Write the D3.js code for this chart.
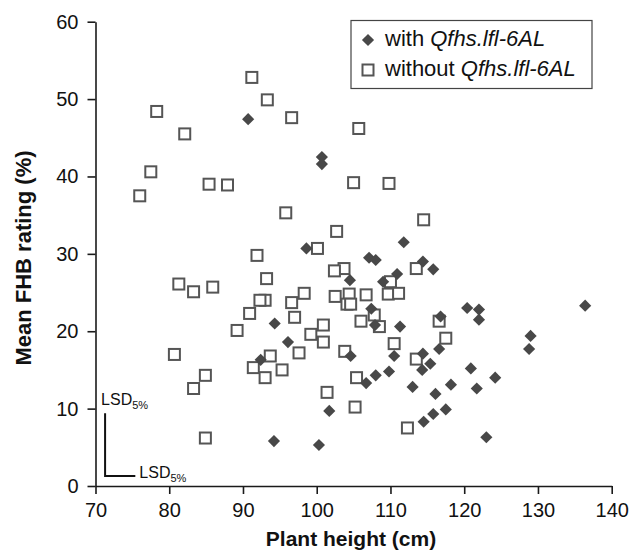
<!DOCTYPE html>
<html><head><meta charset="utf-8">
<script src="https://cdn.jsdelivr.net/npm/d3@7"></script>
<style>body{margin:0;background:#fff}svg{display:block}text{font-family:"Liberation Sans",Arial,Helvetica,sans-serif}</style>
</head><body><svg id="c" width="632" height="554"></svg>
<script>
const xTicks=[70,80,90,100,110,120,130,140];
const yTicks=[0,10,20,30,40,50,60];
const withQ=[[90.7,47.4],[100.7,42.5],[100.7,41.6],[111.8,31.5],[98.6,30.7],[107.1,29.5],[108.0,29.2],[114.4,29.0],[115.8,28.0],[104.5,26.6],[110.9,27.4],[109.0,26.4],[107.4,22.9],[107.9,20.8],[94.3,21.0],[111.3,20.6],[96.1,18.6],[116.8,21.9],[116.6,17.7],[114.4,17.1],[104.6,16.8],[92.4,16.3],[110.5,16.8],[115.4,15.8],[114.3,15.0],[106.7,13.3],[108.0,14.3],[109.8,14.8],[113.0,12.8],[116.1,11.9],[118.2,13.1],[101.7,9.7],[94.2,5.8],[100.3,5.3],[114.5,8.3],[115.8,9.3],[117.5,9.9],[120.4,23.0],[122.0,22.8],[122.0,21.5],[136.4,23.3],[129.0,19.4],[128.8,17.7],[120.9,15.2],[124.2,14.0],[121.7,12.6],[123.0,6.3]];
const withoutQ=[[78.3,48.4],[82.1,45.5],[91.2,52.8],[93.3,49.9],[96.6,47.6],[105.7,46.2],[77.5,40.6],[85.4,39.0],[87.9,38.9],[76.0,37.5],[105.0,39.2],[109.8,39.1],[95.8,35.3],[114.5,34.4],[102.7,32.9],[100.1,30.7],[91.9,29.8],[113.5,28.1],[103.7,28.1],[102.4,27.8],[110.0,26.4],[93.2,26.8],[81.3,26.1],[83.3,25.1],[85.9,25.7],[98.3,24.9],[102.5,24.5],[104.4,24.8],[106.7,24.7],[109.7,24.8],[111.1,24.9],[93.0,24.0],[92.3,24.0],[96.6,23.7],[104.1,23.5],[104.6,23.5],[90.9,22.3],[97.0,21.8],[107.8,22.1],[106.0,21.3],[108.5,20.6],[100.9,20.8],[89.2,20.1],[99.2,19.6],[100.9,18.6],[110.5,18.4],[116.6,21.3],[117.5,19.1],[97.6,17.2],[103.8,17.4],[93.7,16.8],[113.5,16.4],[80.7,17.0],[84.9,14.3],[83.3,12.6],[91.4,15.3],[93.0,14.0],[95.3,15.0],[105.4,14.0],[101.4,12.1],[105.2,10.2],[112.3,7.5],[84.9,6.2]];
const lsdAnchor=[71.3,1.3];
const lsdY=8.1, lsdX=4.1;
const legendLabels=[["with ","Qfhs.lfl-6AL"],["without ","Qfhs.lfl-6AL"]];

const svg=d3.select("#c");
const x=d3.scaleLinear().domain([70,140]).range([95.5,611.7]);
const y=d3.scaleLinear().domain([0,60]).range([486,21.7]);
const axisCol="#1a1a1a";

const gx=svg.append("g").attr("transform","translate(0,"+y(0)+")")
  .call(d3.axisBottom(x).tickValues(xTicks).tickSize(8).tickSizeOuter(0));
const gy=svg.append("g").attr("transform","translate("+x(70)+",0)")
  .call(d3.axisLeft(y).tickValues(yTicks).tickSize(8).tickSizeOuter(0).tickPadding(9));
[gx,gy].forEach(g=>{
  g.selectAll("path,line").attr("stroke",axisCol).attr("stroke-width",1.6);
  g.selectAll("text").attr("font-size",20).attr("fill","#111").style("font-family","'Liberation Sans',Arial,sans-serif");
});
gx.selectAll("text").attr("y",31).attr("dy",0);

// axis titles
svg.append("text").attr("x",351).attr("y",546).attr("text-anchor","middle")
  .attr("font-size",21).attr("font-weight","bold").attr("fill","#111").text("Plant height (cm)");
svg.append("text").attr("transform","translate(31,258) rotate(-90)").attr("text-anchor","middle")
  .attr("font-size",22).attr("font-weight","bold").attr("fill","#111").text("Mean FHB rating (%)");

// points
const sq=11;
svg.append("g").selectAll("rect").data(withoutQ).join("rect")
  .attr("x",d=>x(d[0])-sq/2).attr("y",d=>y(d[1])-sq/2).attr("width",sq).attr("height",sq)
  .attr("fill","#fff").attr("stroke","#555").attr("stroke-width",2);
const dsym=d3.symbol().type(d3.symbolSquare).size(74);
svg.append("g").selectAll("path").data(withQ).join("path")
  .attr("d",dsym).attr("transform",d=>"translate("+x(d[0])+","+y(d[1])+") rotate(45)")
  .attr("fill","#484848");

// LSD bars
const lx=x(lsdAnchor[0]), ly=y(lsdAnchor[1]);
svg.append("path").attr("d","M"+lx+","+y(lsdAnchor[1]+lsdY)+"V"+ly+"H"+x(lsdAnchor[0]+lsdX))
  .attr("fill","none").attr("stroke","#111").attr("stroke-width",2);
function lsdLabel(px,py){
  const t=svg.append("text").attr("x",px).attr("y",py).attr("font-size",16).attr("fill","#111");
  t.append("tspan").text("LSD");
  t.append("tspan").attr("font-size",11).attr("dy",4).text("5%");
}
lsdLabel(lx-4,405);
lsdLabel(x(lsdAnchor[0]+lsdX)+4,478);

// legend
const lg=svg.append("g");
lg.append("rect").attr("x",351).attr("y",20.5).attr("width",241).attr("height",68)
  .attr("fill","#fff").attr("stroke","#444").attr("stroke-width",1.2);
lg.append("path").attr("d",dsym).attr("transform","translate(368,40) rotate(45)").attr("fill","#484848");
lg.append("rect").attr("x",368-sq/2).attr("y",70-sq/2).attr("width",sq).attr("height",sq)
  .attr("fill","#fff").attr("stroke","#555").attr("stroke-width",2);
legendLabels.forEach((l,i)=>{
  const t=lg.append("text").attr("x",385).attr("y",46+i*30).attr("font-size",22).attr("fill","#111");
  t.append("tspan").text(l[0]);
  t.append("tspan").attr("font-style","italic").text(l[1]);
});
</script></body></html>
